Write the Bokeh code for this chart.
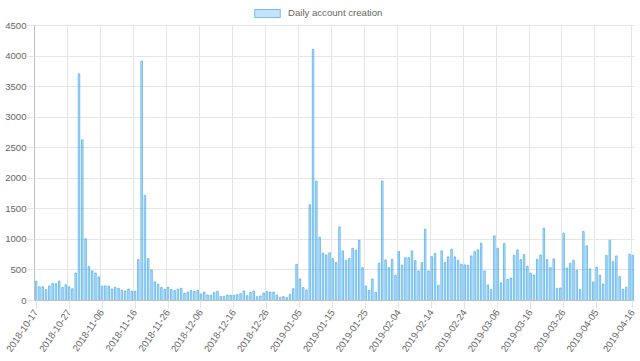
import numpy as np
import pandas as pd
from bokeh.plotting import figure
from bokeh.models import ColumnDataSource, Range1d, FixedTicker, Legend, LegendItem, BoxAnnotation
from bokeh.embed import file_html
from bokeh.resources import INLINE

start_date = "2018-10-17"

accounts = [
    315, 225, 225, 178, 238, 280, 275, 318, 212, 258,
    225, 193, 450, 3710, 2630, 1010, 555, 485, 450, 385,
    235, 240, 235, 190, 215, 200, 167, 155, 188, 152,
    152, 670, 3920, 1720, 685, 500, 305, 265, 213, 180,
    219, 180, 164, 185, 200, 118, 138, 165, 152, 168,
    108, 138, 88, 86, 130, 150, 67, 68, 90, 85,
    85, 96, 112, 156, 79, 134, 156, 63, 74, 123,
    150, 139, 139, 90, 52, 63, 46, 101, 194, 593,
    353, 211, 172, 1567, 4110, 1955, 1035, 777, 747, 780,
    684, 620, 1205, 812, 658, 686, 855, 823, 986, 538,
    238, 167, 353, 134, 610, 1955, 664, 538, 675, 413,
    801, 580, 700, 700, 812, 653, 484, 621, 1168, 484,
    719, 768, 249, 812, 621, 714, 840, 714, 659, 593,
    583, 577, 730, 801, 829, 938, 484, 254, 178, 1058,
    856, 290, 933, 347, 369, 741, 829, 670, 752, 561,
    446, 418, 675, 746, 1184, 670, 538, 681, 200, 205,
    1102, 533, 610, 659, 495, 178, 1130, 894, 517, 304,
    544, 413, 271, 736, 987, 637, 730, 391, 183, 216,
    758, 741,
]

tick_labels = [
    "2018-10-17", "2018-10-27", "2018-11-06", "2018-11-16", "2018-11-26",
    "2018-12-06", "2018-12-16", "2018-12-26", "2019-01-05", "2019-01-15",
    "2019-01-25", "2019-02-04", "2019-02-14", "2019-02-24", "2019-03-06",
    "2019-03-16", "2019-03-26", "2019-04-05", "2019-04-16",
]

y_ticks = [0, 500, 1000, 1500, 2000, 2500, 3000, 3500, 4000, 4500]
y_max = 4500

dates = [d.strftime("%Y-%m-%d") for d in pd.date_range(start_date, periods=len(accounts), freq="D")]
idx = np.arange(len(accounts))
source = ColumnDataSource(dict(x=idx + 0.5, top=accounts, date=dates))

# frame spans the full height above the axis; the band above 4500 holds the legend
frame_h = 299.5
units_per_px = y_max / (frame_h - 25)
y_top = y_max + 25 * units_per_px

p = figure(
    width=640, height=361,
    output_backend="svg", toolbar_location=None,
    x_range=Range1d(0, len(accounts)), y_range=Range1d(0, y_top),
    min_border_left=34, min_border_right=6, min_border_top=0, min_border_bottom=61,
)
p.outline_line_color = None

bars = p.vbar(x="x", top="top", bottom=0, width=0.47, source=source,
              fill_color="#36a2eb", fill_alpha=0.3,
              line_color="#36a2eb", line_alpha=0.8, line_width=0.8)

tick_pos = [dates.index(t) for t in tick_labels]
label_pos = [t + 0.5 for t in tick_pos]
p.xaxis.ticker = FixedTicker(ticks=label_pos)
p.xaxis.major_label_overrides = {pos: lab for pos, lab in zip(label_pos, tick_labels)}
p.xaxis.major_label_orientation = np.deg2rad(56)
p.xgrid.ticker = FixedTicker(ticks=tick_pos)
p.yaxis.ticker = FixedTicker(ticks=y_ticks)
p.yaxis.bounds = (0, y_max)

for ax in (p.xaxis[0], p.yaxis[0]):
    ax.major_label_text_font = "Liberation Sans"
    ax.major_label_text_font_size = "9.6px"
    ax.major_label_text_color = "#666666"
    ax.major_tick_line_color = "#e5e5e5"
    ax.minor_tick_line_color = None
    ax.major_tick_in = 0
    ax.axis_line_color = "#bfbfbf"
p.yaxis.major_tick_out = 7
p.yaxis.major_label_standoff = 1
p.xaxis.major_tick_out = 8
p.xaxis.major_label_standoff = 2

p.grid.grid_line_color = "#e5e5e5"

# white band hiding the vertical grid lines above the top tick
p.add_layout(BoxAnnotation(bottom=y_max + 0.8 * units_per_px, fill_color="white", fill_alpha=1,
                           line_color=None, level="underlay"))

legend = Legend(
    items=[LegendItem(label="Daily account creation", renderers=[bars])],
    location=(217, 282), orientation="horizontal",
    padding=0, margin=0, spacing=0,
    border_line_color=None, background_fill_alpha=0,
    glyph_width=32, glyph_height=10, label_height=10, label_standoff=5,
    label_text_font="Liberation Sans", label_text_font_size="9.6px",
    label_text_color="#666666",
)
p.add_layout(legend, "center")

open("out.html", "w").write(file_html(p, INLINE))
